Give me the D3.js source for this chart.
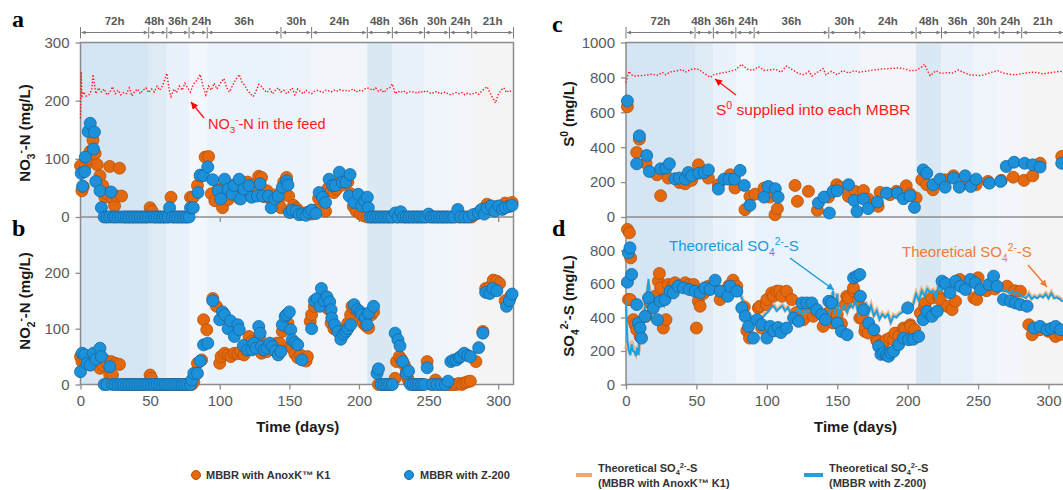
<!DOCTYPE html>
<html>
<head>
<meta charset="utf-8">
<script src="https://cdn.jsdelivr.net/npm/d3@7"></script>
<style>
  body { margin: 0; background: #fff; }
  svg { display: block; font-family: Arial, "Liberation Sans", sans-serif; }
</style>
</head>
<body>
<svg id="chart" width="1063" height="490"></svg>
<script>
// HRT phases (day boundaries) and labels
const hrtBreaks = [0, 49, 62, 78, 91, 144, 166, 206, 224, 247, 265, 281, 311];
const hrtLabels = ["72h", "48h", "36h", "24h", "36h", "30h", "24h", "48h", "36h", "30h", "24h", "21h"];
const bandColors = ["#d5e5f3", "#deebf4", "#e9f2fb", "#f2f7fd", "#eaf2fb", "#edf3fa",
                    "#f2f6fb", "#d9e8f2", "#e8f1fa", "#eef4fa", "#f2f6fa", "#f4f4f4"];

const xTicks = [0, 50, 100, 150, 200, 250, 300];
const aTicks = [0, 100, 200, 300];
const bTicks = [0, 100, 200];
const cTicks = [0, 200, 400, 600, 800, 1000];
const dTicks = [0, 200, 400, 600, 800];

// a: NO3-N [day, mg/L]
const no3Feed = [[0,170],[0.5,250],[1,205],[2,215],[4,208],[6,210],[8,218],[9,245],[11,212],[13,222],[15,215],[17,220],
  [19,210],[21,214],[23,224],[25,212],[27,218],[29,210],[31,214],[33,212],[35,222],[37,208],[39,216],[41,220],[43,212],
  [45,218],[47,222],[49,214],[51,220],[53,215],[55,225],[57,218],[59,226],[61,240],[62,247],[64,215],[65,207],[67,220],
  [69,214],[71,225],[73,218],[75,230],[77,222],[79,215],[81,228],[84,236],[86,245],[88,225],[90,210],[92,225],[94,218],
  [96,230],[98,220],[101,232],[103,238],[105,222],[107,215],[109,225],[111,234],[114,245],[116,232],[118,226],[120,218],
  [122,212],[124,207],[126,216],[128,228],[130,224],[132,218],[134,214],[136,220],[138,212],[140,218],[142,222],[144,215],
  [146,218],[148,212],[150,216],[152,222],[154,210],[156,220],[158,215],[160,212],[162,218],[164,214],[166,212],[168,216],
  [170,218],[172,216],[174,214],[176,218],[178,217],[180,215],[182,218],[184,216],[186,219],[188,217],[190,218],[192,216],
  [194,218],[196,220],[198,215],[200,218],[202,216],[204,220],[206,222],[208,220],[210,218],[212,222],[214,216],[216,219],
  [218,214],[220,220],[222,222],[224,229],[226,212],[228,216],[230,214],[232,217],[234,213],[236,215],[238,216],[240,214],
  [242,213],[244,216],[246,214],[248,217],[250,215],[252,212],[254,214],[256,216],[258,212],[260,213],[262,215],[264,212],
  [266,210],[268,212],[270,214],[272,212],[274,214],[276,210],[278,213],[280,211],[282,212],[284,214],[286,211],[288,216],
  [290,220],[292,224],[294,214],[296,205],[298,196],[300,210],[302,218],[304,222],[306,214],[308,218],[310,214]];

const no3K1 = [[0,88],[1,45],[2,52],[3.5,88],[5,100],[7,113],[9,132],[10.5,109],[12,90],[14,71],[16,54],[17.5,34],[19,40],
  [21,87],[23,31],[24.5,19],[26,36],[28,84],[29.5,36],[32,0],[35,0],[38,0],[41,0],[44,0],[47,0],[50,16],[51.5,10],[54,0],
  [57,0],[60,0],[63,0],[65,34],[67,0],[70,0],[73,0],[76,0],[79,34],[81,34],[84,54],[86,70],[89.5,103],[92,104],[94,40],
  [96.5,28],[99,48],[102,16],[104,52],[106,30],[108,45],[110,55],[112,38],[114,32],[116,50],[118,45],[120,60],[122,36],
  [124,55],[126,40],[128,70],[130,68],[132,35],[134,45],[136,32],[138,30],[140,38],[142,25],[144,16],[146,60],[148,68],
  [149.5,36],[151,8],[153,20],[155,15],[157,10],[160,5],[163,8],[166,5],[169,12],[171,32],[173,40],[175,25],[176,10],
  [178,50],[180,45],[182,42],[184,48],[186,60],[188,55],[190,62],[192,60],[194,40],[196,18],[198,10],[199.5,25],[201,5],
  [203.5,2],[206,0],[209,0],[212,0],[215,0],[218,0],[221,0],[224,0],[227,0],[230,0],[233,0],[236,0],[239,0],[242,0],
  [245,0],[248,0],[251,0],[254,0],[257,0],[260,0],[263,0],[266,0],[269,0],[272,0],[275,0],[278,0],[281,0],[284,5],
  [287,10],[290,15],[292,22],[294,18],[296,12],[299,18],[302,15],[305,24],[308,20],[310,25]];

const no3Z200 = [[0.5,75],[1.5,53],[3,78],[3.5,103],[5.5,147],[7,161],[9.3,117],[10,146],[11,61],[14,45],[15,16],[17,0],
  [19,0],[21,0],[22,43],[23.5,0],[25,0],[27,0],[29,0],[31,0],[33,0],[35,0],[37,0],[39,0],[41,0],[43,0],[45,0],[47,0],
  [49,0],[51,0],[53,0],[55,0],[57,0],[59,0],[61,0],[63,0],[64,16],[66,0],[68,0],[70,0],[72,0],[74,0],[76,0],[78,0],
  [79,16],[81,16],[84.4,42],[86,72],[88.4,71],[91.4,86],[95,64],[99,45],[100.7,31],[103.5,65],[106,48],[109,39],
  [110.5,54],[114,65],[115,31],[117.4,48],[121,54],[123,34],[127,36],[129,57],[131,36],[135,36],[137,16],[139.5,31],
  [142,36],[145,51],[148,62],[149,55],[150,8],[152,12],[154.8,10],[157,4],[159.5,5],[162,3],[164,8],[166,12],[169,6],
  [171.4,42],[173.8,34],[176,25],[178.6,65],[181,54],[183,54],[186,77],[188,60],[190.5,60],[193.6,73],[193,36],
  [196.4,25],[199.5,39],[202,19],[204,28],[206,34],[206.7,16],[208,0],[210,0],[212,0],[214,0],[216,0],[218,0],[220,0],
  [222,0],[224,0],[226,7],[228,0],[230,9],[232,0],[234,0],[236,0],[238,0],[240,0],[242,0],[244,0],[246,0],[248,0],
  [250,5],[252,0],[254,0],[256,0],[258,0],[260,0],[262,0],[264,0],[266,0],[268,0],[271,13],[273,0],[276,0],[279,0],
  [282,4],[285.7,7],[288,13],[290,5],[292,15],[295,19],[297.6,10],[300.5,19],[303,13],[305,16],[308,18],[310,20]];

// b: NO2-N
const no2K1 = [[0,50],[1,41],[3,45],[5,40],[7,35],[9,42],[11.6,41],[14,29],[16,35],[17.4,44],[19,38],[21,17],[22,41],
  [23,17],[25,38],[28,36],[31,0],[34,0],[37,0],[40,0],[43,0],[46,0],[50,17],[51,11],[53,0],[56,0],[59,0],[62,0],[65,0],
  [68,0],[71,0],[74,0],[77,0],[80,0],[81.4,5],[84,38],[87,44],[88.4,116],[90.7,98],[95,154],[97.7,140],[100,38],[101,50],
  [103.5,56],[106,53],[108,50],[110.5,56],[113,55],[115,59],[117.4,53],[119,62],[121,86],[123,77],[125,68],[127,74],
  [128.5,85],[130,56],[132,60],[134,59],[137,65],[139,68],[141,74],[143,74],[145,95],[147,104],[149,110],[151,68],
  [152,65],[154,55],[156,48],[158,53],[160,45],[162,42],[163,50],[165,113],[166,125],[168,140],[170,151],[172,145],
  [174,151],[176,140],[178,135],[180,110],[182,100],[184,98],[186,92],[188,95],[190,100],[192,110],[194,125],[195,140],
  [197,135],[199,130],[201,120],[203,110],[205,105],[207,101],[209,125],[210.5,130],[214,0],[217,0],[220,0],[223,0],
  [226,11],[227,41],[229,50],[230.5,45],[232.6,35],[234,20],[235,11],[236,5],[239,0],[242,0],[245,0],[249,41],[252,0],
  [255,8],[258,0],[262,0],[264,0],[266,0],[268,0],[270,0],[272,2],[274,0],[276,3],[278,5],[280,6],[284,41],[289,95],
  [291,172],[294,175],[296.5,187],[299,185],[301,181],[305,150],[309,158]];

const no2Z200 = [[0,23],[1.2,56],[3,53],[4.7,38],[7,35],[9.3,56],[11,45],[14,65],[15,50],[17,0],[19,0],[21,32],[23,0],
  [25,0],[27,0],[29,0],[31,0],[33,0],[35,0],[37,0],[39,0],[41,0],[43,0],[45,0],[47,0],[49,0],[51,0],[53,0],[55,0],
  [57,0],[59,0],[61,0],[63,0],[65,0],[67,0],[69,0],[71,0],[73,0],[75,0],[77,0],[79,0],[80,8],[81.4,20],[84,20],[86,42],
  [88.4,71],[91.4,74],[95,150],[100,116],[102,130],[103.5,125],[106,100],[107.7,114],[110.5,86],[113,107],[114,98],
  [117,70],[120,62],[123,62],[124.4,74],[126,65],[128,104],[129,92],[130,68],[132,62],[134,65],[136,74],[138,68],
  [140,60],[142,53],[144,59],[145,107],[147,122],[148,125],[150,130],[151,98],[152,80],[154,75],[156,71],[159,44],
  [166,100],[168,150],[170,154],[172,140],[173,172],[175,150],[177,157],[179,148],[180,134],[180.5,119],[182.6,107],
  [185,95],[187,81],[189,90],[190.7,95],[192,100],[194,107],[196.5,143],[199,134],[201,130],[202,125],[204.6,119],
  [205.8,107],[207,128],[210.5,140],[213,20],[214,28],[216,0],[218,0],[220,0],[222,0],[224,0],[226,92],[228,80],
  [229.5,69],[231.4,41],[234,20],[235.6,24],[237,0],[239,0],[241,0],[243,0],[245,0],[247,0],[249,30],[253,0],[256,0],
  [259,0],[262,0],[264,6],[266,41],[268,44],[270,44],[272,48],[273,50],[275.6,56],[278,52],[280,50],[286,66],[289,92],
  [291,165],[294,163],[296,172],[299,168],[306,140],[308,150],[310,162]];

// c: S0
const s0Feed = [[0,770],[2,835],[4,815],[6,808],[10,810],[14,812],[18,818],[22,812],[26,828],[28,815],[32,832],[36,838],
  [40,845],[42,830],[46,845],[50,850],[53,838],[56,820],[60,800],[62,815],[66,822],[70,828],[74,835],[78,845],[82,875],
  [86,848],[90,840],[94,862],[98,840],[102,842],[106,848],[110,830],[114,865],[118,845],[122,825],[126,815],[130,835],
  [132,808],[136,830],[140,850],[142,815],[146,835],[150,815],[154,840],[158,825],[162,838],[166,830],[170,835],[174,840],
  [178,845],[182,848],[186,850],[190,852],[194,855],[198,848],[202,838],[206,840],[210,860],[212,875],[214,838],[216,810],
  [220,838],[224,822],[228,828],[232,825],[236,842],[240,828],[244,815],[248,812],[252,810],[256,820],[260,830],[264,838],
  [268,825],[272,818],[276,815],[280,820],[284,825],[288,830],[292,828],[296,820],[300,825],[304,830],[308,835],[311,830]];

const s0K1 = [[1,632],[7.6,370],[9.5,446],[14.2,308],[22,242],[24.6,122],[30,223],[37.9,198],[42,190],[46.6,210],
  [51.4,299],[58.5,223],[65.6,185],[74,242],[77.4,166],[84.5,42],[88,118],[91.6,131],[98,166],[102,114],[105.8,13],
  [107.5,48],[120,181],[121.7,90],[129.5,147],[135.9,38],[143.7,114],[149.6,185],[152,171],[158,118],[162.6,147],
  [168.6,152],[172,103],[175.7,70],[179,61],[180.4,141],[187.5,128],[192,147],[199,179],[201.7,133],[206,109],[210,213],
  [213.5,185],[218,156],[226.6,213],[232.5,236],[240.8,194],[248.6,185],[257,204],[266.5,210],[275,228],[282.6,210],
  [288.8,236],[294,308],[309.4,347]];

const s0Z200 = [[1,665],[7.6,305],[9.5,465],[14.7,352],[16.6,261],[24.6,276],[28.4,280],[30.8,305],[34.8,219],[37.9,223],
  [42,217],[44.3,255],[46.6,236],[51.8,251],[55.6,255],[58.5,270],[65.6,160],[69.6,217],[73,217],[77,217],[81,267],
  [84,181],[88,67],[98,114],[101,175],[106,162],[108,114],[136.6,80],[140.6,114],[144.4,23],[147,147],[150,150],
  [158,185],[162,95],[164,32],[168.6,103],[172,48],[178.5,86],[185,137],[192.7,137],[197,105],[201.7,122],[204.8,55],
  [211,270],[213.5,251],[218,185],[223,217],[226.6,171],[232.5,223],[236.7,171],[240.8,236],[244.8,175],[248.6,217],
  [258,194],[266,204],[270,290],[275.6,314],[283,308],[288.8,299],[294,286],[309.4,308]];

// d: SO4(2-)-S
const so4K1 = [[1,926],[1.7,507],[2.4,906],[3.3,756],[3,507],[5.2,387],[6.4,357],[7.6,327],[10,287],[14.2,407],[17,487],
  [20.6,527],[23,617],[23.7,663],[24.6,577],[26.5,337],[27,507],[28.4,387],[30,597],[33.6,597],[34.8,607],[38,590],
  [42,607],[45,595],[48,597],[50,337],[51.4,497],[52.6,467],[55,543],[58.5,587],[62,580],[66.8,507],[70.4,557],[73,590],
  [76,623],[78.7,587],[84,463],[85.8,321],[87.7,277],[94,457],[95,467],[96.4,337],[99.6,477],[100,507],[103.5,547],
  [104.6,527],[107,557],[109,557],[110.7,527],[114,557],[117.8,507],[121,430],[126,387],[129,460],[133,407],[135.4,437],
  [140,347],[144,430],[147,367],[150,417],[153,363],[155.7,477],[156.7,527],[158,517],[161.6,557],[161.5,577],[165,507],
  [166,397],[167.5,397],[169.6,317],[170,343],[172,307],[178,267],[178.5,257],[180.6,238],[182.8,247],[185,267],
  [187.5,277],[190,267],[191,307],[193.6,287],[197,337],[198,327],[201.8,357],[202,347],[205,327],[209,427],[212,467],
  [212.6,487],[217,517],[222,527],[223,507],[228,467],[231.5,447],[234,497],[237,627],[247,517],[249,507],[250,637],
  [256,560],[262,570],[270.6,587],[276,560],[280,557],[286,357],[288.4,297],[294,327],[300,317],[305,287],[309,300]];

const so4Z200 = [[1,611],[1.7,786],[2.8,816],[4,657],[7.6,477],[8.8,367],[10,337],[11,277],[13.5,407],[16,517],[19.4,457],
  [22.3,387],[24.2,497],[27.7,507],[31.3,557],[33.6,547],[37,587],[40.8,577],[45,567],[49,557],[52.6,547],[56,577],
  [59.7,567],[63.3,623],[66.8,557],[72.3,527],[74,587],[78.7,557],[82.2,457],[84.6,407],[87,347],[90.5,277],[93,387],
  [96.4,357],[100,277],[102.4,347],[105,320],[108,340],[110,310],[114,337],[119,397],[122.5,377],[125,487],[128.4,487],
  [132,487],[135.5,447],[139,417],[141.5,387],[144,497],[146,487],[150,367],[153,317],[157,297],[161.6,637],[164,647],
  [166,657],[166.4,527],[168.7,447],[172.3,367],[176,327],[179.4,227],[181,180],[183,188],[185,175],[186.5,168],
  [188,190],[190,198],[193.6,238],[197,277],[200,457],[200.7,267],[204,270],[207.8,287],[211,387],[213.7,437],
  [217.3,407],[221,437],[224.4,617],[226.8,603],[230,547],[234,617],[237.4,587],[241,567],[244.5,627],[248,607],
  [251.7,567],[257.6,597],[261,647],[263.5,587],[268,507],[273,497],[276.5,487],[280,477],[284.8,467],[289.6,337],
  [294,347],[299,327],[302,335],[305,347],[308.5,327]];

const so4TheoZ200 = [[0,500],[1,260],[2,200],[3,175],[4,240],[5,200],[6,195],[7,170],[8,220],[9,175],[10,340],[12,420],
  [14,470],[16,630],[17,520],[19,430],[21,460],[23,470],[25,500],[27,470],[29,520],[31,540],[34,560],[37,570],[40,585],
  [43,575],[46,580],[49,570],[52,560],[55,575],[58,570],[61,560],[64,575],[67,580],[70,570],[73,575],[76,565],[79,560],
  [81,540],[83,500],[85,460],[87,420],[89,390],[91,370],[93,365],[95,380],[97,400],[99,420],[101,435],[103,460],
  [105,470],[107,440],[109,455],[111,470],[113,440],[115,460],[117,420],[119,410],[121,440],[123,450],[125,420],
  [127,440],[129,430],[131,445],[133,425],[135,440],[137,420],[139,430],[141,410],[143,420],[145,440],[147,560],
  [148,420],[149,470],[150,540],[151,400],[153,450],[155,470],[157,430],[159,480],[161,460],[163,500],[165,420],
  [167,460],[169,430],[170,490],[172,420],[174,470],[176,410],[178,440],[180,390],[182,420],[184,400],[186,420],
  [188,370],[190,410],[192,400],[194,420],[196,430],[198,450],[200,475],[202,440],[204,480],[206,540],[208,500],
  [210,560],[212,530],[214,570],[216,550],[218,560],[220,520],[222,590],[224,560],[226,580],[228,555],[230,590],
  [232,570],[234,595],[236,580],[238,590],[240,575],[242,595],[244,580],[246,590],[248,575],[250,585],[252,570],
  [254,580],[256,585],[258,570],[260,580],[262,560],[264,570],[266,560],[268,555],[270,565],[272,545],[274,560],
  [276,540],[278,550],[280,535],[282,525],[284,515],[286,540],[288,510],[290,525],[292,515],[294,530],[296,520],
  [298,540],[300,515],[302,545],[304,515],[306,520],[308,510],[310,495]];

const so4TheoK1 = [[0,210],[1,250],[2,210],[3,200],[4,260],[5,215],[6,205],[7,185],[8,230],[9,190],[10,350],[12,430],
  [14,480],[16,600],[17,530],[19,440],[21,470],[23,480],[25,510],[27,480],[29,530],[31,550],[34,565],[37,575],[40,590],
  [43,580],[46,585],[49,575],[52,565],[55,580],[58,575],[61,565],[64,580],[67,585],[70,575],[73,580],[76,570],[79,565],
  [81,545],[83,505],[85,465],[87,425],[89,395],[91,375],[93,370],[95,385],[97,405],[99,425],[101,440],[103,465],
  [105,475],[107,445],[109,460],[111,475],[113,445],[115,465],[117,425],[119,415],[121,445],[123,455],[125,425],
  [127,445],[129,435],[131,450],[133,430],[135,445],[137,425],[139,435],[141,415],[143,425],[145,445],[147,555],
  [148,430],[149,475],[150,545],[151,410],[153,455],[155,475],[157,435],[159,485],[161,465],[163,505],[165,430],
  [167,465],[169,435],[170,495],[172,425],[174,475],[176,415],[178,445],[180,395],[182,425],[184,405],[186,425],
  [188,375],[190,415],[192,405],[194,425],[196,435],[198,455],[200,480],[202,445],[204,485],[206,545],[208,505],
  [210,565],[212,535],[214,575],[216,555],[218,565],[220,525],[222,595],[224,565],[226,585],[228,560],[230,595],
  [232,575],[234,600],[236,585],[238,595],[240,580],[242,600],[244,585],[246,595],[248,580],[250,590],[252,575],
  [254,585],[256,590],[258,575],[260,585],[262,565],[264,575],[266,565],[268,560],[270,570],[272,550],[274,565],
  [276,545],[278,555],[280,540],[282,530],[284,520],[286,545],[288,515],[290,530],[292,520],[294,535],[296,525],
  [298,545],[300,520],[302,550],[304,520],[306,525],[308,515],[310,500]];

const ORANGE = "#e4680d", ORANGE_EDGE = "#b5520a";
const BLUE = "#1c90d8", BLUE_EDGE = "#126aa8";
const GRAY = "#595959", FRAME = "#8c8c8c";

const svg = d3.select("#chart");
const defs = svg.append("defs");

function arrowMarker(id, color, w, h) {
  defs.append("marker").attr("id", id)
    .attr("viewBox", "0 0 10 10").attr("refX", 10).attr("refY", 5)
    .attr("markerWidth", w).attr("markerHeight", h)
    .attr("markerUnits", "userSpaceOnUse")
    .attr("orient", "auto-start-reverse")
    .append("path").attr("d", "M0,0 L10,5 L0,10 z").attr("fill", color);
}
arrowMarker("hdr", "#7a7a7a", 5, 4);
arrowMarker("red", "#ff0000", 8, 7);
arrowMarker("blu", "#1a9be0", 8, 7);
arrowMarker("org", "#f07c32", 8, 7);

// writes text with sub/superscripts; parts = [[text, "sub"|"sup"|""]]
function rich(t, parts, fs) {
  let shift = 0;
  parts.forEach(([s, m]) => {
    const target = m === "sub" ? fs * 0.3 : m === "sup" ? -fs * 0.4 : 0;
    t.append("tspan").attr("dy", target - shift)
      .attr("font-size", m ? fs * 0.68 : fs).text(s);
    shift = target;
  });
  return t;
}

const TOP = 42.5, MID = 217, BOT = 384.5;
const xL = d3.scaleLinear().domain([0, 311]).range([80.5, 513.5]);
const xR = d3.scaleLinear().domain([0, 311]).range([626, 1064]);
const yA = d3.scaleLinear().domain([0, 300]).range([MID, TOP]);
const yB = d3.scaleLinear().domain([0, 300]).range([BOT, MID]);
const yC = d3.scaleLinear().domain([0, 1000]).range([MID, TOP]);
const yD = d3.scaleLinear().domain([0, 1000]).range([BOT, MID]);

// push crowded header labels apart a little
function spread(centers, gap) {
  const c = centers.slice();
  for (let k = 0; k < 6; k++) {
    for (let i = 1; i < c.length; i++) {
      const d = c[i] - c[i - 1];
      if (d < gap) { c[i - 1] -= (gap - d) / 2; c[i] += (gap - d) / 2; }
    }
  }
  return c;
}

function column(x) {
  const g = svg.append("g");
  // HRT background bands
  g.selectAll(".band").data(hrtLabels).join("rect")
    .attr("x", (d, i) => x(hrtBreaks[i]))
    .attr("width", (d, i) => x(hrtBreaks[i + 1]) - x(hrtBreaks[i]))
    .attr("y", TOP).attr("height", BOT - TOP)
    .attr("fill", (d, i) => bandColors[i]);

  // header with arrows
  const hy = 32.5;
  g.selectAll(".seg").data(hrtLabels).join("line")
    .attr("x1", (d, i) => x(hrtBreaks[i]) + 1)
    .attr("x2", (d, i) => x(hrtBreaks[i + 1]) - 1)
    .attr("y1", hy).attr("y2", hy)
    .attr("stroke", "#7a7a7a").attr("stroke-width", 1)
    .attr("marker-start", "url(#hdr)").attr("marker-end", "url(#hdr)");
  g.selectAll(".brk").data(hrtBreaks).join("line")
    .attr("x1", (d) => x(d)).attr("x2", (d) => x(d))
    .attr("y1", 27).attr("y2", 38.5)
    .attr("stroke", "#7a7a7a").attr("stroke-width", 1);
  const centers = spread(hrtLabels.map((d, i) => (x(hrtBreaks[i]) + x(hrtBreaks[i + 1])) / 2), 23.5);
  g.selectAll(".hl").data(hrtLabels).join("text")
    .attr("x", (d, i) => centers[i])
    .attr("y", 25)
    .attr("text-anchor", "middle")
    .attr("font-size", 11.5).attr("font-weight", "bold").attr("fill", GRAY)
    .text((d) => d);
  return g;
}

function styleAxis(ax) {
  ax.select(".domain").remove();
  ax.selectAll(".tick line").attr("stroke", FRAME).attr("stroke-width", 1.3);
  ax.selectAll(".tick text").attr("fill", GRAY).attr("font-size", 15)
    .attr("font-family", "Arial, 'Liberation Sans', sans-serif");
}

function frame(x) {
  svg.append("rect").attr("x", x.range()[0]).attr("y", TOP)
    .attr("width", x.range()[1] - x.range()[0]).attr("height", BOT - TOP)
    .attr("fill", "none").attr("stroke", FRAME).attr("stroke-width", 1.5);
  svg.append("line").attr("x1", x.range()[0]).attr("x2", x.range()[1])
    .attr("y1", MID).attr("y2", MID).attr("stroke", FRAME).attr("stroke-width", 1.5);
}

function dots(data, x, y, fill, edge) {
  svg.append("g").selectAll("circle").data(data).join("circle")
    .attr("cx", (d) => x(d[0])).attr("cy", (d) => y(d[1])).attr("r", 6)
    .attr("fill", fill).attr("stroke", edge).attr("stroke-width", 0.8);
}

function feedLine(data, x, y) {
  svg.append("path").datum(data)
    .attr("d", d3.line().x((d) => x(d[0])).y((d) => y(d[1])))
    .attr("fill", "none").attr("stroke", "#ff1a1a").attr("stroke-width", 1.4)
    .attr("stroke-dasharray", "1.4,1.8");
}

function yAxis(x, y, ticks) {
  const ax = svg.append("g").attr("transform", `translate(${x.range()[0]},0)`)
    .call(d3.axisLeft(y).tickValues(ticks).tickSize(5).tickPadding(6).tickFormat(d3.format("d")));
  styleAxis(ax);
}

function xAxis(x, titleDay) {
  const ax = svg.append("g").attr("transform", `translate(0,${BOT})`)
    .call(d3.axisBottom(x).tickValues(xTicks).tickSize(5).tickPadding(6));
  styleAxis(ax);
  svg.append("text").attr("x", x(titleDay)).attr("y", 432)
    .attr("text-anchor", "middle").attr("font-size", 15).attr("font-weight", "bold")
    .attr("fill", "#1a1a1a").text("Time (days)");
}

function yTitle(cx, cy, parts) {
  const t = svg.append("text").attr("transform", `translate(${cx},${cy}) rotate(-90)`)
    .attr("text-anchor", "middle").attr("font-weight", "bold").attr("fill", "#1a1a1a");
  rich(t, parts, 15);
}

function panelLetter(x, y, s) {
  svg.append("text").attr("x", x).attr("y", y)
    .attr("font-family", "'Liberation Serif', 'DejaVu Serif', serif")
    .attr("font-size", 24).attr("font-weight", "bold").text(s);
}

// ---------- left column (a, b) ----------
column(xL);
frame(xL);
yAxis(xL, yA, aTicks);
yAxis(xL, yB, bTicks);
xAxis(xL, 156);
// small ticks on divider
svg.append("g").attr("transform", `translate(0,${MID})`)
  .call(d3.axisBottom(xL).tickValues([100, 200, 300]).tickSize(5).tickFormat(""))
  .call(styleAxis);

feedLine(no3Feed, xL, yA);
dots(no3K1, xL, yA, ORANGE, ORANGE_EDGE);
dots(no3Z200, xL, yA, BLUE, BLUE_EDGE);
dots(no2K1, xL, yB, ORANGE, ORANGE_EDGE);
dots(no2Z200, xL, yB, BLUE, BLUE_EDGE);

yTitle(30, 133, [["NO", ""], ["3", "sub"], ["-", "sup"], ["-N (mg/L)", ""]]);
yTitle(30, 301, [["NO", ""], ["2", "sub"], ["-", "sup"], ["-N (mg/L)", ""]]);
panelLetter(12, 27, "a");
panelLetter(12, 236, "b");

// annotation a
rich(svg.append("text").attr("x", 208).attr("y", 129).attr("fill", "#ff1a1a"),
  [["NO", ""], ["3", "sub"], ["-", "sup"], ["-N in the feed", ""]], 14.5);
svg.append("line").attr("x1", 204).attr("y1", 118).attr("x2", 191).attr("y2", 102)
  .attr("stroke", "#ff1a1a").attr("stroke-width", 1.4).attr("marker-end", "url(#red)");

// ---------- right column (c, d) ----------
column(xR);
frame(xR);
yAxis(xR, yC, cTicks);
yAxis(xR, yD, dTicks);
xAxis(xR, 163);

feedLine(s0Feed, xR, yC);
dots(s0K1, xR, yC, ORANGE, ORANGE_EDGE);
dots(s0Z200, xR, yC, BLUE, BLUE_EDGE);

const line = (x, y) => d3.line().x((d) => x(d[0])).y((d) => y(d[1]));
svg.append("path").datum(so4TheoK1).attr("d", line(xR, yD))
  .attr("fill", "none").attr("stroke", "#f7a56e").attr("stroke-width", 4).attr("opacity", 0.75);
dots(so4K1, xR, yD, ORANGE, ORANGE_EDGE);
svg.append("path").datum(so4TheoZ200).attr("d", line(xR, yD))
  .attr("fill", "none").attr("stroke", "#1aa3e2").attr("stroke-width", 2);
dots(so4Z200, xR, yD, BLUE, BLUE_EDGE);

yTitle(574, 114, [["S", ""], ["0", "sup"], [" (mg/L)", ""]]);
yTitle(574, 306, [["SO", ""], ["4", "sub"], ["2-", "sup"], ["-S (mg/L)", ""]]);
panelLetter(552, 32, "c");
panelLetter(552, 236, "d");

rich(svg.append("text").attr("x", 716).attr("y", 115).attr("fill", "#ff1a1a"),
  [["S", ""], ["0", "sup"], [" supplied into each MBBR", ""]], 15.5);
svg.append("line").attr("x1", 736).attr("y1", 95).attr("x2", 715).attr("y2", 79)
  .attr("stroke", "#ff1a1a").attr("stroke-width", 1.4).attr("marker-end", "url(#red)");

rich(svg.append("text").attr("x", 669).attr("y", 251).attr("fill", "#1a9be0"),
  [["Theoretical SO", ""], ["4", "sub"], ["2-", "sup"], ["-S", ""]], 15);
svg.append("line").attr("x1", 790).attr("y1", 258).attr("x2", 834).attr("y2", 290)
  .attr("stroke", "#1a9be0").attr("stroke-width", 1.5).attr("marker-end", "url(#blu)");

rich(svg.append("text").attr("x", 902).attr("y", 257).attr("fill", "#f07c32"),
  [["Theoretical SO", ""], ["4", "sub"], ["2-", "sup"], ["-S", ""]], 15);
svg.append("line").attr("x1", 1028).attr("y1", 265).attr("x2", 1047).attr("y2", 287)
  .attr("stroke", "#f07c32").attr("stroke-width", 1.5).attr("marker-end", "url(#org)");

// ---------- legend ----------
const lg = svg.append("g").attr("font-size", 11).attr("font-weight", "bold").attr("fill", "#333");
lg.append("circle").attr("cx", 196).attr("cy", 475).attr("r", 4.5).attr("fill", ORANGE).attr("stroke", ORANGE_EDGE);
lg.append("text").attr("x", 206).attr("y", 479).text("MBBR with AnoxK™ K1");
lg.append("circle").attr("cx", 409).attr("cy", 475).attr("r", 4.5).attr("fill", BLUE).attr("stroke", BLUE_EDGE);
lg.append("text").attr("x", 420).attr("y", 479).text("MBBR with Z-200");

lg.append("line").attr("x1", 576).attr("x2", 592).attr("y1", 475).attr("y2", 475)
  .attr("stroke", "#f7a56e").attr("stroke-width", 4);
rich(lg.append("text").attr("x", 598).attr("y", 472), [["Theoretical SO", ""], ["4", "sub"], ["2-", "sup"], ["-S", ""]], 11);
lg.append("text").attr("x", 598).attr("y", 487).text("(MBBR with AnoxK™ K1)");

lg.append("line").attr("x1", 804).attr("x2", 823).attr("y1", 475).attr("y2", 475)
  .attr("stroke", "#1aa3e2").attr("stroke-width", 4);
rich(lg.append("text").attr("x", 829).attr("y", 472), [["Theoretical SO", ""], ["4", "sub"], ["2-", "sup"], ["-S", ""]], 11);
lg.append("text").attr("x", 829).attr("y", 487).text("(MBBR with Z-200)");
</script>
</body>
</html>
